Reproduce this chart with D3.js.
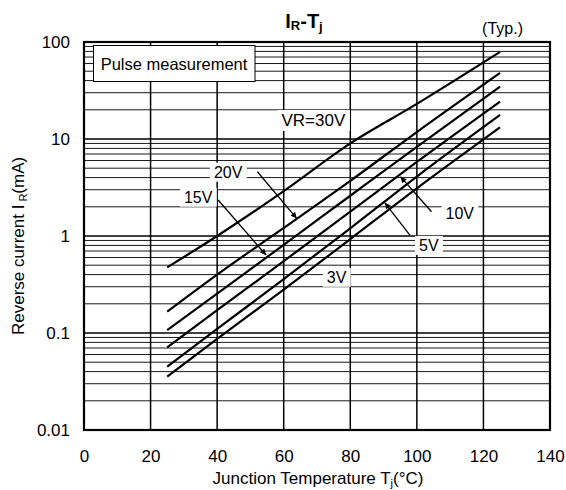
<!DOCTYPE html>
<html>
<head>
<meta charset="utf-8">
<script src="https://cdn.jsdelivr.net/npm/d3@7"></script>
<style>
  html, body { margin: 0; padding: 0; background: #fff; }
  svg { display: block; font-family: "Liberation Sans", Arial, Helvetica, sans-serif; }
</style>
</head>
<body>
<svg id="chart" width="566" height="490"></svg>
<script>
// ---- data ----
const temps = [25, 40, 60, 80, 100, 125];            // Tj (°C)
const vr30 = [0.475, 1.0, 2.9, 9.0, 23, 79];          // IR (mA)
const vr20 = [0.166, 0.40, 1.21, 3.7, 11.8, 48];
const vr15 = [0.107, 0.255, 0.81, 2.6, 8.3, 34.6];
const vr10 = [0.071, 0.172, 0.55, 1.78, 5.8, 24.3];
const vr5  = [0.045, 0.11, 0.36, 1.2, 4.1, 17.7];
const vr3  = [0.0355, 0.087, 0.28, 0.93, 3.1, 13.2];
const seriesList = [vr30, vr20, vr15, vr10, vr5, vr3];

const xTicks = [0, 20, 40, 60, 80, 100, 120, 140];
const yTicks = [0.01, 0.1, 1, 10, 100];
const yTickLabels = ["0.01", "0.1", "1", "10", "100"];

// curve labels (data coordinates) and leader arrows
const labelText = ["VR=30V", "20V", "15V", "10V", "5V", "3V"];
const labelT    = [68.9, 43.3, 34.3, 112.9, 103.6, 75.9];
const labelV    = [15.7, 4.6, 2.54, 1.71, 0.81, 0.38];
const arrowFromT = [52.1, 40.3, 104.4, 97.9];
const arrowFromV = [4.6, 2.35, 1.78, 1.02];
const arrowToT   = [63.9, 54.7, 95.1, 90.4];
const arrowToV   = [1.52, 0.637, 4.09, 2.2];

// ---- layout ----
const svg = d3.select("#chart");
const L = 84, R = 550, T = 42, B = 430;
const x = d3.scaleLinear().domain([0, 140]).range([L, R]);
const y = d3.scaleLog().domain([0.01, 100]).range([B, T]);

// minor horizontal grid
const minor = [];
[0.01, 0.1, 1, 10].forEach(d => { for (let k = 2; k <= 9; k++) minor.push(d * k); });
svg.append("g").selectAll("line").data(minor).join("line")
  .attr("x1", L).attr("x2", R)
  .attr("y1", d => y(d)).attr("y2", d => y(d))
  .attr("stroke", "#1a1a1a").attr("stroke-width", 1);

// major horizontal grid
svg.append("g").selectAll("line").data(yTicks.slice(1, -1)).join("line")
  .attr("x1", L).attr("x2", R)
  .attr("y1", d => y(d)).attr("y2", d => y(d))
  .attr("stroke", "#000").attr("stroke-width", 1.6);

// vertical grid
svg.append("g").selectAll("line").data(xTicks.slice(1, -1)).join("line")
  .attr("x1", d => x(d)).attr("x2", d => x(d))
  .attr("y1", T).attr("y2", B)
  .attr("stroke", "#000").attr("stroke-width", 1.5);

// "Pulse measurement" box
svg.append("rect")
  .attr("x", L + 9.5).attr("y", T + 3.5).attr("width", 161.5).attr("height", 36)
  .attr("fill", "#fff").attr("stroke", "#000").attr("stroke-width", 1);
svg.append("text")
  .attr("x", L + 90).attr("y", T + 28)
  .attr("text-anchor", "middle").attr("font-size", 16.5).text("Pulse measurement");

// curve labels with white backgrounds (break the grid)
const labelsG = svg.append("g");
const lbls = labelsG.selectAll("text").data(labelText).join("text")
  .attr("x", (d, i) => x(labelT[i]))
  .attr("y", (d, i) => y(labelV[i]) + 6)
  .attr("text-anchor", "middle")
  .attr("font-size", (d, i) => i === 0 ? 17 : 16)
  .text(d => d);
lbls.each(function () {
  const bb = this.getBBox();
  labelsG.insert("rect", "text")
    .attr("x", bb.x - 4).attr("y", bb.y - 1)
    .attr("width", bb.width + 8).attr("height", bb.height + 2)
    .attr("fill", "#fff");
});

// curves
const line = d3.line()
  .x((d, i) => x(temps[i]))
  .y(d => y(d))
  .curve(d3.curveMonotoneX);
svg.append("g").selectAll("path").data(seriesList).join("path")
  .attr("d", d => line(d))
  .attr("fill", "none").attr("stroke", "#000").attr("stroke-width", 2.2);

// arrows
svg.append("defs").append("marker")
  .attr("id", "ah").attr("viewBox", "0 0 10 10")
  .attr("refX", 10).attr("refY", 5)
  .attr("markerWidth", 9).attr("markerHeight", 6)
  .attr("markerUnits", "userSpaceOnUse")
  .attr("orient", "auto")
  .append("path").attr("d", "M0,0 L10,5 L0,10 z").attr("fill", "#000");
svg.append("g").selectAll("line").data(arrowFromT).join("line")
  .attr("x1", (d, i) => x(arrowFromT[i])).attr("y1", (d, i) => y(arrowFromV[i]))
  .attr("x2", (d, i) => x(arrowToT[i])).attr("y2", (d, i) => y(arrowToV[i]))
  .attr("stroke", "#000").attr("stroke-width", 1.3)
  .attr("marker-end", "url(#ah)");

// frame
svg.append("rect")
  .attr("x", L).attr("y", T).attr("width", R - L).attr("height", B - T)
  .attr("fill", "none").attr("stroke", "#000").attr("stroke-width", 2.2);

// axes (tick labels only)
const xAxis = svg.append("g").attr("transform", `translate(0,${B})`)
  .call(d3.axisBottom(x).tickValues(xTicks).tickSize(0).tickPadding(20).tickFormat(d3.format("d")));
const yAxis = svg.append("g").attr("transform", `translate(${L},0)`)
  .call(d3.axisLeft(y).tickValues(yTicks).tickSize(0).tickPadding(14)
    .tickFormat((d, i) => yTickLabels[i]));
[xAxis, yAxis].forEach(g => {
  g.select(".domain").remove();
  g.selectAll("text").attr("font-size", 17).attr("fill", "#000")
    .attr("font-family", "'Liberation Sans', Arial, sans-serif");
});

// title
const title = svg.append("text")
  .attr("x", 304).attr("y", 28).attr("text-anchor", "middle")
  .attr("font-size", 20).attr("font-weight", "bold");
title.append("tspan").text("I");
title.append("tspan").attr("font-size", 13).attr("dy", 2).text("R");
title.append("tspan").attr("dy", -2).text("-T");
title.append("tspan").attr("font-size", 13).attr("dy", 3).text("j");

// (Typ.)
svg.append("text").attr("x", 523).attr("y", 34).attr("text-anchor", "end")
  .attr("font-size", 16).text("(Typ.)");

// x-axis title
const xt = svg.append("text").attr("x", 318).attr("y", 484)
  .attr("text-anchor", "middle").attr("font-size", 17);
xt.append("tspan").text("Junction Temperature T");
xt.append("tspan").attr("font-size", 11).attr("dy", 3).text("j");
xt.append("tspan").attr("dy", -3).text("(°C)");

// y-axis title (rotated)
const yt = svg.append("text")
  .attr("transform", `translate(18,236) rotate(-90)`)
  .attr("x", -99).attr("y", 6).attr("font-size", 17);
yt.append("tspan").text("Reverse current I");
yt.append("tspan").attr("dx", 3).attr("dy", 3).attr("font-size", 11).text("R");
yt.append("tspan").attr("dy", -3).text("(mA)");
</script>
</body>
</html>
